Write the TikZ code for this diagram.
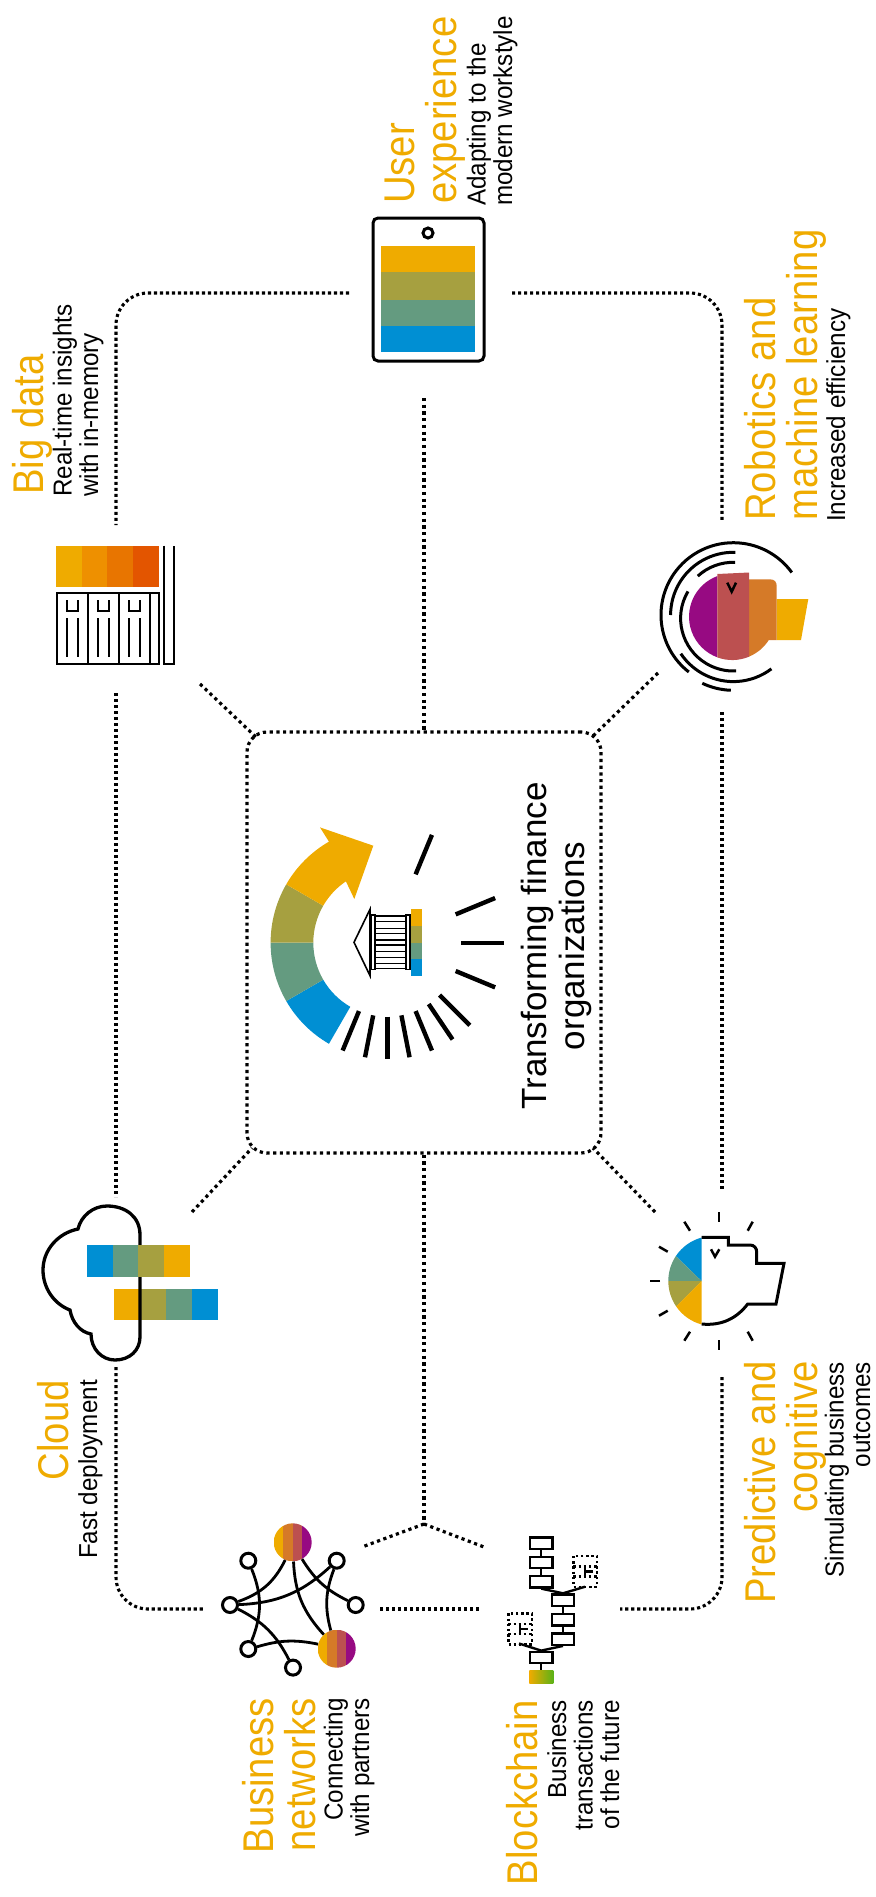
\documentclass[tikz,border=0pt]{standalone}
\usepackage{fontspec}
\setmainfont{Liberation Sans}
\newfontfamily\headfont[FakeStretch=0.89]{Liberation Sans}
\newfontfamily\subfont[FakeStretch=0.93]{Liberation Sans}
\definecolor{sapgold}{HTML}{EFAB00}
\definecolor{sapolive}{HTML}{A6A040}
\definecolor{sapgreen}{HTML}{649B80}
\definecolor{sapblue}{HTML}{008FD3}
\definecolor{amberb}{HTML}{EE9000}
\definecolor{amberc}{HTML}{E87500}
\definecolor{amberd}{HTML}{E35500}
\definecolor{warmorange}{HTML}{D57A28}
\definecolor{warmred}{HTML}{BC5050}
\definecolor{warmpurple}{HTML}{970A82}
\definecolor{leafgreen}{HTML}{5BB217}
\tikzset{
    dotframe/.style={line width=3.1pt, dash pattern=on 3.1pt off 2.9pt},
    dotbox/.style={line width=3.2pt, dash pattern=on 3.2pt off 3.5pt},
    headlbl/.style={rotate=90, inner sep=0pt, text=sapgold, font=\headfont\fontsize{43}{42}\selectfont},
    sublbl/.style={rotate=90, inner sep=0pt, font=\subfont\fontsize{26}{26.5}\selectfont},
    inkline/.style={line width=3pt},
    netdot/.style={circle, draw, line width=3pt, fill=white, inner sep=0pt, minimum size=15pt},
    netdisc/.style={circle, inner sep=0pt, minimum size=38pt},
    netedge/.style={line width=2.8pt},
    chainlink/.style={draw, line width=2.4pt},
    keydot/.style={line width=2.4pt, dash pattern=on 2.4pt off 2.8pt}
}
% colour disc of the network icon
\newcommand{\stripedisc}[2]{
    \begin{scope}[shift={(#1,#2)}]
        \clip (0,0) circle (19);
        \fill[sapgold] (-19,-19) rectangle (-9.5,19);
        \fill[warmorange] (-9.5,-19) rectangle (0,19);
        \fill[warmred] (0,-19) rectangle (9.5,19);
        \fill[warmpurple] (9.5,-19) rectangle (19,19);
    \end{scope}
}
% dotted square of the blockchain icon
\newcommand{\keybox}[2]{
    \begin{scope}[shift={(#1,#2)}]
        \draw[keydot] (0,0) rectangle (23.4,31);
        \draw[keydot] (0,10.5) -- (23.4,10.5);
        \draw[keydot] (0,20.5) -- (23.4,20.5);
        \draw[line width=2.4pt] (11.5,10) -- (11.5,21);
        \draw[line width=2.4pt] (11.5,15.5) -- (20,15.5);
    \end{scope}
}
\begin{document}
\begin{tikzpicture}[x=1pt,y=-1pt]
    \useasboundingbox (0,0) rectangle (875,1897);

    % Centre box
    \node[draw, dotbox, rounded corners=20pt, minimum width=354pt, minimum height=421pt, inner sep=0pt] (finbox) at (424,942.5) {};

    % Free ends of the connectors
    \coordinate (uxleft) at (349,293);
    \coordinate (uxright) at (512,293);
    \coordinate (uxbottom) at (424,398);
    \coordinate (bdtop) at (116,525);
    \coordinate (bdbottom) at (116,693);
    \coordinate (bddiag) at (200,684);
    \coordinate (bdin) at (256,737);
    \coordinate (rbtop) at (722,521);
    \coordinate (rbbottom) at (722,712);
    \coordinate (rbdiag) at (658,673);
    \coordinate (rbin) at (592,737);
    \coordinate (cltop) at (116,1197);
    \coordinate (clbottom) at (116,1367);
    \coordinate (cldiag) at (192,1212);
    \coordinate (clin) at (252,1148);
    \coordinate (pctop) at (722,1190);
    \coordinate (pcbottom) at (722,1377);
    \coordinate (pcdiag) at (655,1212);
    \coordinate (pcin) at (593,1148);
    \coordinate (bnleft) at (205,1609);
    \coordinate (bnright) at (380,1609);
    \coordinate (bcleft) at (480,1609);
    \coordinate (bcright) at (620,1609);
    \coordinate (junction) at (424,1524);
    \coordinate (bnfork) at (362,1547);
    \coordinate (bcfork) at (484,1547);

    % Connectors
    \draw[dotframe, rounded corners=32pt] (uxleft) -| (bdtop);
    \draw[dotframe, rounded corners=32pt] (uxright) -| (rbtop);
    \draw[dotframe] (bdbottom) -- (cltop);
    \draw[dotframe] (rbbottom) -- (pctop);
    \draw[dotframe, rounded corners=32pt] (clbottom) |- (bnleft);
    \draw[dotframe, rounded corners=32pt] (pcbottom) |- (bcright);
    \draw[dotframe] (bnright) -- (bcleft);
    \draw[dotbox] (uxbottom) -- (finbox.north);
    \draw[dotbox] (finbox.south) -- (junction);
    \draw[dotbox] (junction) -- (bnfork);
    \draw[dotbox] (junction) -- (bcfork);
    \draw[dotbox] (bddiag) -- (bdin);
    \draw[dotbox] (rbdiag) -- (rbin);
    \draw[dotbox] (cldiag) -- (clin);
    \draw[dotbox] (pcdiag) -- (pcin);

    % Centre arrow
    \begin{scope}[shift={(387.3,942.7)}]
        \fill[sapblue] (120:116.7) arc (120:150:116.7) -- (150:74) arc (150:120:74) -- cycle;
        \fill[sapgreen] (150:116.7) arc (150:180:116.7) -- (180:74) arc (180:150:74) -- cycle;
        \fill[sapolive] (180:116.7) arc (180:210:116.7) -- (210:74) arc (210:180:74) -- cycle;
        \fill[sapgold] (210:116.7) arc (210:240:116.7) -- (-67.3,-115.3) -- (-14,-97) -- (-33,-43.7) -- (236:74) arc (236:210:74) -- cycle;
        % Spokes
        \draw[line width=4.4pt] (112.5:74) -- (112.5:116.7);
        \draw[line width=4.4pt] (101:74) -- (101:116.7);
        \draw[line width=4.4pt] (90:74) -- (90:116.7);
        \draw[line width=4.4pt] (79:74) -- (79:116.7);
        \draw[line width=4.4pt] (67.5:74) -- (67.5:116.7);
        \draw[line width=4.4pt] (56:74) -- (56:116.7);
        \draw[line width=4.4pt] (45:74) -- (45:116.7);
        \draw[line width=4.4pt] (22.5:74) -- (22.5:116.7);
        \draw[line width=4.4pt] (0:74) -- (0:116.7);
        \draw[line width=4.4pt] (-22.5:74) -- (-22.5:116.7);
        \draw[line width=4.4pt] (-67.5:74) -- (-67.5:116.7);
    \end{scope}

    % Bank building
    \draw[line width=1.6pt] (370,909.3) -- (354,942.3) -- (370,975.7) -- cycle;
    \draw[line width=1.6pt] (371,915) rectangle (375,969.3);
    \draw[line width=1.6pt] (405.7,915) rectangle (410,969.3);
    \draw[line width=1.2pt] (375,916) -- (405.7,916);
    \draw[line width=1.2pt] (375,921.7) -- (405.7,921.7);
    \draw[line width=1.2pt] (375,928.3) -- (405.7,928.3);
    \draw[line width=1.2pt] (375,933.3) -- (405.7,933.3);
    \draw[line width=1.2pt] (375,940) -- (405.7,940);
    \draw[line width=1.2pt] (375,945) -- (405.7,945);
    \draw[line width=1.2pt] (375,951.7) -- (405.7,951.7);
    \draw[line width=1.2pt] (375,957.3) -- (405.7,957.3);
    \draw[line width=1.2pt] (375,963.3) -- (405.7,963.3);
    \draw[line width=1.2pt] (375,968.3) -- (405.7,968.3);
    \fill[sapgold] (410.7,909) rectangle (422.3,925.7);
    \fill[sapolive] (410.7,925.7) rectangle (422.3,942.7);
    \fill[sapgreen] (410.7,942.7) rectangle (422.3,959.3);
    \fill[sapblue] (410.7,959.3) rectangle (422.3,976);

    \node[rotate=90, inner sep=0pt, align=center, anchor=base, font=\fontsize{35}{38}\selectfont] (fintext) at (584,946) {Transforming finance\\organizations};

    % Tablet
    \draw[inkline, rounded corners=5pt] (373,218) rectangle (484,361);
    \draw[inkline] (428,233) circle (5);
    \fill[sapgold] (381,246) rectangle (475,272);
    \fill[sapolive] (381,272) rectangle (475,300);
    \fill[sapgreen] (381,300) rectangle (475,326);
    \fill[sapblue] (381,326) rectangle (475,352);
    \node[headlbl, align=left, anchor=base west] (uxhead) at (456,204) {User\\experience};
    \node[sublbl, align=left, anchor=base west] (uxsub) at (512,206) {Adapting to the\\modern workstyle};

    % Servers
    \fill[sapgold] (56,545.7) rectangle (81.7,587.3);
    \fill[amberb] (81.7,545.7) rectangle (107.3,587.3);
    \fill[amberc] (107.3,545.7) rectangle (133.3,587.3);
    \fill[amberd] (133.3,545.7) rectangle (159.3,587.3);
    \draw[line width=2.3pt] (56.7,592.7) rectangle (158.7,664);
    \draw[line width=2.3pt] (88.3,592.7) -- (88.3,664);
    \draw[line width=2.3pt] (119.3,592.7) -- (119.3,664);
    \draw[line width=2.3pt] (150,592.7) -- (150,664);
    \draw[line width=2.3pt] (67.3,600) -- (67.3,610.7) -- (78.3,610.7) -- (78.3,600);
    \draw[line width=2.3pt] (98.3,600) -- (98.3,610.7) -- (109,610.7) -- (109,600);
    \draw[line width=2.3pt] (129.3,600) -- (129.3,610.7) -- (140,610.7) -- (140,600);
    \draw[line width=2.3pt] (67.3,618.3) -- (67.3,656.7);
    \draw[line width=2.3pt] (78.3,618.3) -- (78.3,656.7);
    \draw[line width=2.3pt] (98.3,618.3) -- (98.3,656.7);
    \draw[line width=2.3pt] (109,618.3) -- (109,656.7);
    \draw[line width=2.3pt] (129.3,618.3) -- (129.3,656.7);
    \draw[line width=2.3pt] (140,618.3) -- (140,656.7);
    \draw[line width=2.3pt] (164.3,545.7) -- (164.3,664) -- (174,664) -- (174,545.7);
    \node[headlbl, anchor=base west] (bdhead) at (43,495) {Big data};
    \node[sublbl, align=left, anchor=base west] (bdsub) at (98,497) {Real-time insights\\with in-memory};

    % Robot head
    \fill[warmpurple] (717.3,576.1) arc (249.7:110.3:43.3) -- cycle;
    \fill[sapgold] (776.7,599) -- (808.3,599) -- (801,640) -- (776.7,640) -- cycle;
    \fill[warmorange] (749,579.3) -- (770,579.3) .. controls (774.5,579.3) and (776.7,582) .. (776.7,586) -- (776.7,640) -- (768.8,640) arc (32.6:67.3:43.3) -- cycle;
    \fill[warmred] (717.3,574) -- (749,572.5) -- (749,656.7) arc (67.3:110.3:43.3) -- cycle;
    \draw[line width=2.5pt] (727.3,582.7) -- (731.7,591.7) -- (736,582.7);
    \begin{scope}[shift={(733.3,615)}]
        \draw[inkline] (128:72.3) arc (128:324:72.3);
        \draw[inkline] (180:62.7) arc (180:272:62.7);
        \draw[inkline] (227.6:52.7) arc (227.6:272:52.7);
    \end{scope}
    \begin{scope}[shift={(733.3,618.3)}]
        \draw[inkline] (210.7:52.7) arc (210.7:87:52.7);
        \draw[inkline] (146:63.3) arc (146:53:63.3);
        \draw[inkline] (115.5:72) arc (115.5:92:72);
    \end{scope}
    \node[headlbl, align=left, anchor=base west] (rbhead) at (817,521) {Robotics and\\machine learning};
    \node[sublbl, anchor=base west] (rbsub) at (845,522) {Increased efficiency};

    % Cloud
    \fill[sapgold] (114,1289) rectangle (140,1320);
    \fill[sapolive] (140,1289) rectangle (166,1320);
    \fill[sapgreen] (166,1289) rectangle (192,1320);
    \fill[sapblue] (192,1289) rectangle (218,1320);
    \draw[line width=3.3pt] (140,1235) .. controls (140,1216) and (125,1206) .. (107,1206) .. controls (93,1206) and (81,1216) .. (78,1229) .. controls (58,1233) and (43,1250) .. (43,1270) .. controls (43,1288) and (54,1304) .. (70,1310) .. controls (72,1322) and (80,1332) .. (91,1334) .. controls (91,1349) and (102,1360) .. (115,1360) .. controls (130,1360) and (140,1350) .. (140,1337) -- cycle;
    \fill[sapblue] (87,1245) rectangle (113,1277);
    \fill[sapgreen] (113,1245) rectangle (138,1277);
    \fill[sapolive] (138,1245) rectangle (164,1277);
    \fill[sapgold] (164,1245) rectangle (190,1277);
    \node[headlbl, anchor=base east] (clhead) at (68,1380) {Cloud};
    \node[sublbl, anchor=base east] (clsub) at (97,1380) {Fast deployment};

    % Predictive head
    \begin{scope}[shift={(713.3,1281)}]
        \fill[sapblue] (-11.7,0) -- (255:45) arc (255:213.6:45) -- cycle;
        \fill[sapgreen] (-11.7,0) -- (213.6:45) arc (213.6:180:45) -- cycle;
        \fill[sapolive] (-11.7,0) -- (180:45) arc (180:145.7:45) -- cycle;
        \fill[sapgold] (-11.7,0) -- (145.7:45) arc (145.7:105:45) -- cycle;
    \end{scope}
    \draw[inkline] (701.7,1237.3) -- (728.3,1237.3) -- (728.3,1245) -- (750,1245) .. controls (754,1245) and (756.7,1248) .. (756.7,1252) -- (756.7,1263.3) -- (784,1263.3) -- (776,1304) -- (747.7,1304) .. controls (737,1318) and (722,1326) .. (701.7,1324);
    \draw[line width=2.5pt] (711,1249.3) -- (715,1256.7) -- (719.3,1249.3);
    \draw[line width=2.5pt] (719,1212.3) -- (719,1222.3);
    \draw[line width=2.5pt] (752.7,1221.7) -- (747.7,1230.7);
    \draw[line width=2.5pt] (690,1230.7) -- (684.3,1221.7);
    \draw[line width=2.5pt] (667.7,1251.7) -- (659,1246.7);
    \draw[line width=2.5pt] (660,1281) -- (650,1281);
    \draw[line width=2.5pt] (667.7,1310.7) -- (659,1315.7);
    \draw[line width=2.5pt] (684.3,1340.7) -- (690,1331.7);
    \draw[line width=2.5pt] (719,1340) -- (719,1350);
    \draw[line width=2.5pt] (747.7,1331.7) -- (752.7,1340.7);
    \node[headlbl, align=right, anchor=base east] (pchead) at (817,1361) {Predictive and\\cognitive};
    \node[sublbl, align=right, anchor=base east] (pcsub) at (870,1362) {Simulating business\\outcomes};

    % Business network
    \stripedisc{292.7}{1542.3}
    \stripedisc{336.7}{1648.7}
    \node[netdisc] (disca) at (292.7,1542.3) {};
    \node[netdisc] (discb) at (336.7,1648.7) {};
    \node[netdot] (dota) at (248.3,1560.7) {};
    \node[netdot] (dotb) at (336.7,1560.7) {};
    \node[netdot] (dotc) at (355.7,1605) {};
    \node[netdot] (dotd) at (230,1605) {};
    \node[netdot] (dote) at (248.3,1649) {};
    \node[netdot] (dotf) at (293,1667.6) {};
    \draw[netedge] (dotd) to[bend right=22] (disca);
    \draw[netedge] (dotd) to[bend right=20] (dotb);
    \draw[netedge] (dota) to[bend left=22] (dote);
    \draw[netedge] (disca) to[bend right=20] (discb);
    \draw[netedge] (disca) to[bend right=16] (dotc);
    \draw[netedge] (dotb) to[bend right=18] (discb);
    \draw[netedge] (dotd) to[bend left=18] (dotf);
    \draw[netedge] (dote) to[bend left=14] (discb);
    \node[headlbl, align=right, anchor=base east] (bnhead) at (315,1698) {Business\\networks};
    \node[sublbl, align=right, anchor=base east] (bnsub) at (369,1698) {Connecting\\with partners};

    % Blockchain
    \node[chainlink, minimum width=22.3pt, minimum height=11.4pt, inner sep=0pt] (linka) at (541.2,1543.3) {};
    \node[chainlink, minimum width=22.3pt, minimum height=11.4pt, inner sep=0pt] (linkb) at (541.2,1562.5) {};
    \node[chainlink, minimum width=22.3pt, minimum height=11.4pt, inner sep=0pt] (linkc) at (541.2,1581.7) {};
    \node[chainlink, minimum width=22.3pt, minimum height=11.4pt, inner sep=0pt] (linkd) at (563,1600.2) {};
    \node[chainlink, minimum width=22.3pt, minimum height=11.4pt, inner sep=0pt] (linke) at (563,1619.7) {};
    \node[chainlink, minimum width=22.3pt, minimum height=11.4pt, inner sep=0pt] (linkf) at (563,1639) {};
    \node[chainlink, minimum width=22.3pt, minimum height=11.4pt, inner sep=0pt] (linkg) at (541.2,1657.5) {};
    \shade[left color=sapgold, right color=leafgreen] (529.3,1670) rectangle (553.3,1683.3);
    \coordinate (chainbase) at (541.2,1670);
    \draw[line width=2.4pt] (linka) -- (linkb);
    \draw[line width=2.4pt] (linkb) -- (linkc);
    \draw[line width=2.4pt] (linkd) -- (linke);
    \draw[line width=2.4pt] (linke) -- (linkf);
    \draw[line width=2.4pt] (linkg) -- (chainbase);
    \keybox{573.3}{1556}
    \keybox{508.3}{1613.3}
    \coordinate (keyaend) at (585,1586.7);
    \coordinate (keybend) at (519,1643.5);
    \draw[line width=2.4pt] (linkc.south) -- (linkd.north) -- (keyaend);
    \draw[line width=2.4pt] (keybend) -- (linkg.north) -- (linkf.south);
    \node[headlbl, anchor=base east] (bchead) at (537,1700) {Blockchain};
    \node[sublbl, align=right, anchor=base east] (bcsub) at (619,1700) {Business\\transactions\\of the future};
\end{tikzpicture}
\end{document}
